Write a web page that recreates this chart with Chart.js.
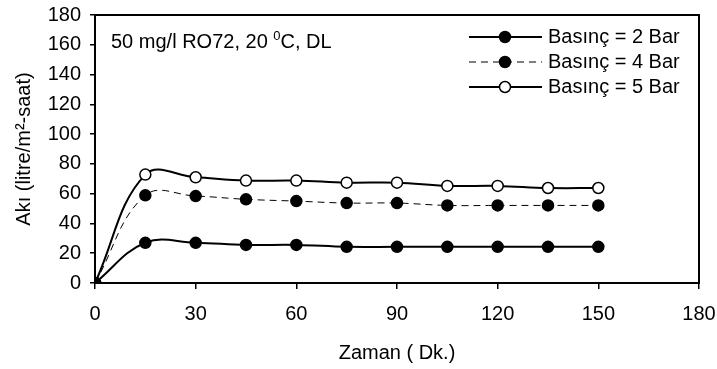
<!DOCTYPE html>
<html>
<head>
<meta charset="utf-8">
<script src="https://cdn.jsdelivr.net/npm/chart.js@4/dist/chart.umd.min.js"></script>
<style>
  html, body { margin: 0; padding: 0; background: #fff; }
  #wrap { width: 717px; height: 369px; }
</style>
</head>
<body>
<div id="wrap"><canvas id="c" width="717" height="369"></canvas></div>
<script>
// Zaman (Dk.) and flux readings per pressure
const times = [0, 15, 30, 45, 60, 75, 90, 105, 120, 135, 150];
const bar2 = [0, 27, 27, 25.6, 25.6, 24.3, 24.3, 24.3, 24.3, 24.3, 24.3];
const bar4 = [0, 58.9, 58.4, 56.2, 55, 53.7, 53.7, 52.1, 52.1, 52.1, 52.1];
const bar5 = [0, 72.8, 71, 68.8, 68.8, 67.4, 67.4, 65.2, 65.2, 63.8, 63.8];
const seriesNames = ["Basınç = 2 Bar", "Basınç = 4 Bar", "Basınç = 5 Bar"];
const xTicks = [0, 30, 60, 90, 120, 150, 180];
const yTicks = [0, 20, 40, 60, 80, 100, 120, 140, 160, 180];

const FONT = "'Liberation Sans', Arial, sans-serif";
const FS = 20;
const pts = (ys) => times.map((t, i) => ({ x: t, y: ys[i] }));

// box around the plot, in-plot legend and the condition note
const decor = {
  id: "decor",
  afterDraw(chart) {
    const { ctx, chartArea: a } = chart;
    ctx.save();
    ctx.strokeStyle = "#000";
    ctx.lineWidth = 2;
    ctx.strokeRect(a.left, a.top, a.right - a.left, a.bottom - a.top);

    ctx.fillStyle = "#000";
    ctx.textBaseline = "middle";
    const note = "50 mg/l RO72, 20 ";
    ctx.font = FS + "px " + FONT;
    ctx.fillText(note, 111, 42);
    let w = ctx.measureText(note).width;
    ctx.font = "13px " + FONT;
    ctx.fillText("0", 111 + w, 36);
    w += ctx.measureText("0").width;
    ctx.font = FS + "px " + FONT;
    ctx.fillText("C, DL", 111 + w, 42);

    const rows = [37, 62, 87];
    chart.data.datasets.forEach((ds, i) => {
      const y = rows[i];
      ctx.beginPath();
      ctx.setLineDash(ds.borderDash || []);
      ctx.lineWidth = ds.borderWidth;
      ctx.moveTo(469, y);
      ctx.lineTo(542, y);
      ctx.stroke();
      ctx.setLineDash([]);
      ctx.beginPath();
      ctx.arc(505, y, 5.5, 0, Math.PI * 2);
      ctx.fillStyle = ds.pointBackgroundColor;
      ctx.fill();
      ctx.lineWidth = 1.5;
      ctx.stroke();
      ctx.fillStyle = "#000";
      ctx.font = FS + "px " + FONT;
      ctx.fillText(ds.label, 548, y);
    });
    ctx.restore();
  }
};

function line(label, ys, fill, dash, width) {
  return {
    label,
    data: pts(ys),
    borderColor: "#000",
    borderWidth: width,
    borderDash: dash,
    pointBackgroundColor: fill,
    pointBorderColor: "#000",
    pointBorderWidth: 1.5,
    pointRadius: 5.5,
    tension: 0.4,
    fill: false
  };
}

new Chart(document.getElementById("c"), {
  type: "line",
  data: {
    datasets: [
      line(seriesNames[0], bar2, "#000", [], 2),
      line(seriesNames[1], bar4, "#000", [7, 5], 1),
      line(seriesNames[2], bar5, "#fff", [], 2)
    ]
  },
  plugins: [decor],
  options: {
    responsive: false,
    animation: false,
    layout: { padding: { top: 15, right: 18, left: 0, bottom: 0 } },
    plugins: { legend: { display: false }, tooltip: { enabled: false } },
    scales: {
      x: {
        type: "linear",
        min: 0, max: 180,
        afterBuildTicks: (s) => { s.ticks = xTicks.map(v => ({ value: v })); },
        afterFit: (s) => { s.height = 86; s.paddingLeft = 0; s.paddingRight = 0; },
        grid: { drawOnChartArea: false, color: "#000", tickLength: 6, tickColor: "#000", lineWidth: 1.5 },
        border: { color: "#000", width: 2 },
        ticks: { color: "#000", font: { family: FONT, size: FS }, padding: 13, maxRotation: 0 },
        title: { display: true, text: "Zaman ( Dk.)", color: "#000", font: { family: FONT, size: FS }, padding: { top: 4, bottom: 4 } }
      },
      y: {
        min: 0, max: 180,
        afterBuildTicks: (s) => { s.ticks = yTicks.map(v => ({ value: v })); },
        afterFit: (s) => { s.width = 95; s.paddingTop = 0; s.paddingBottom = 0; },
        grid: { drawOnChartArea: false, color: "#000", tickLength: 5, tickColor: "#000", lineWidth: 1.5 },
        border: { color: "#000", width: 2 },
        ticks: { color: "#000", font: { family: FONT, size: FS }, padding: 9 },
        title: { display: true, text: "Akı (litre/m²-saat)", color: "#000", font: { family: FONT, size: FS }, padding: { top: 12, bottom: 12 } }
      }
    }
  }
});
</script>
</body>
</html>
